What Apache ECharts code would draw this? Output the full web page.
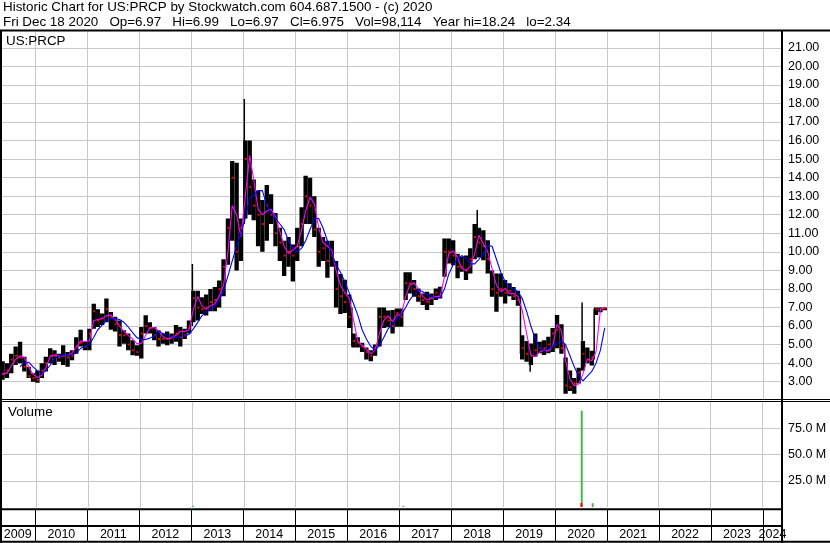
<!DOCTYPE html>
<html><head><meta charset="utf-8">
<script src="https://cdn.jsdelivr.net/npm/echarts@6/dist/echarts.min.js"></script>
<style>html,body{margin:0;padding:0;background:#fff}#c{width:830px;height:543px}</style>
</head><body><div id="c"></div>
<script>
// ---- categories (months, mid-month points) ----
const months = [
 '2009-05','2009-06','2009-07','2009-08','2009-09','2009-10','2009-11','2009-12',
 '2010-01','2010-02','2010-03','2010-04','2010-05','2010-06','2010-07','2010-08','2010-09','2010-10','2010-11','2010-12',
 '2011-01','2011-02','2011-03','2011-04','2011-05','2011-06','2011-07','2011-08','2011-09','2011-10','2011-11','2011-12',
 '2012-01','2012-02','2012-03','2012-04','2012-05','2012-06','2012-07','2012-08','2012-09','2012-10','2012-11','2012-12',
 '2013-01','2013-02','2013-03','2013-04','2013-05','2013-06','2013-07','2013-08','2013-09','2013-10','2013-11','2013-12',
 '2014-01','2014-02','2014-03','2014-04','2014-05','2014-06','2014-07','2014-08','2014-09','2014-10','2014-11','2014-12',
 '2015-01','2015-02','2015-03','2015-04','2015-05','2015-06','2015-07','2015-08','2015-09','2015-10','2015-11','2015-12',
 '2016-01','2016-02','2016-03','2016-04','2016-05','2016-06','2016-07','2016-08','2016-09','2016-10','2016-11','2016-12',
 '2017-01','2017-02','2017-03','2017-04','2017-05','2017-06','2017-07','2017-08','2017-09','2017-10','2017-11','2017-12',
 '2018-01','2018-02','2018-03','2018-04','2018-05','2018-06','2018-07','2018-08','2018-09','2018-10','2018-11','2018-12',
 '2019-01','2019-02','2019-03','2019-04','2019-05','2019-06','2019-07','2019-08','2019-09','2019-10','2019-11','2019-12',
 '2020-01','2020-02','2020-03','2020-04','2020-05','2020-06','2020-07','2020-08','2020-09','2020-10','2020-11','2020-12'
];
// ---- monthly trading ranges ----
const lows = [
 3.1, 3.2, 3.45, 3.9, 4.0, 3.55, 3.2, 3.0,
 2.95, 3.2, 3.55, 4.0, 3.9, 4.07, 3.9, 3.8, 4.16, 4.5, 4.9, 4.7,
 4.7, 5.86, 5.95, 6.05, 6.2, 5.8, 5.7, 4.9, 5.05, 4.7, 4.43, 4.4,
 4.25, 5.6, 5.6, 5.24, 4.9, 5.05, 4.97, 5.05, 5.15, 4.9, 5.3, 5.6,
 6.2, 6.3, 6.65, 6.57, 6.8, 6.8, 7.0, 7.6, 9.3, 10.6, 9.0, 9.5,
 11.8, 12.0, 11.7, 10.3, 10.0, 10.6, 11.5, 10.3, 9.5, 8.7, 9.2, 8.4,
 9.5, 10.3, 11.5, 11.5, 10.8, 9.2, 9.5, 8.6, 9.2, 7.0, 6.65, 6.7,
 5.9, 4.85, 4.85, 4.6, 4.2, 4.1, 4.4, 4.9, 5.9, 5.94, 5.6, 5.96,
 5.96, 7.4, 7.76, 7.58, 7.31, 7.13, 6.86, 7.13, 7.4, 7.49, 8.66, 9.37,
 9.28, 8.57, 8.92, 8.48, 8.83, 9.6, 9.7, 9.55, 8.83, 7.58, 6.77, 7.58,
 7.22, 7.6, 7.4, 7.1, 4.2, 4.08, 3.9, 4.35, 4.53, 4.44, 4.53, 4.6,
 4.8, 4.5, 2.35, 2.5, 2.35, 2.9, 3.6, 4.0, 3.87, 6.6, 6.75, 6.85
];
const highs = [
 4.1, 4.0, 4.5, 4.9, 5.15, 4.35, 3.8, 3.45,
 3.6, 4.0, 4.35, 4.8, 4.7, 4.5, 4.97, 4.6, 4.7, 5.4, 5.8, 5.2,
 5.86, 7.2, 6.9, 6.67, 7.48, 6.76, 6.5, 6.3, 5.77, 5.6, 5.24, 4.97,
 5.95, 6.58, 6.2, 5.95, 5.77, 5.6, 5.7, 5.6, 6.05, 5.95, 5.86, 6.3,
 7.9, 7.9, 7.55, 7.7, 8.0, 8.1, 8.46, 9.6, 11.8, 14.9, 14.8, 11.8,
 16.0, 16.0, 13.9, 13.3, 12.8, 13.6, 13.1, 12.1, 11.3, 10.6, 10.8, 10.4,
 11.3, 12.4, 14.1, 14.0, 13.0, 11.3, 10.8, 10.6, 10.6, 9.5, 8.8, 8.5,
 7.7, 5.6, 5.4, 5.1, 4.85, 4.7, 5.0, 7.0, 7.0, 6.84, 6.86, 6.95,
 6.95, 8.9, 8.9, 8.48, 8.03, 7.76, 7.85, 7.76, 8.03, 8.12, 10.72, 10.72,
 10.63, 9.9, 9.73, 9.8, 10.2, 11.5, 11.3, 11.17, 10.63, 9.0, 8.83, 8.83,
 8.48, 8.3, 8.1, 7.9, 5.5, 5.2, 5.06, 5.6, 5.15, 5.24, 5.42, 5.9,
 6.6, 6.1, 4.3, 3.6, 3.2, 3.75, 5.2, 4.85, 4.67, 7.0, 7.0, 7.0
];
const closes = [
 3.4, 3.6, 4.2, 4.4, 4.3, 3.8, 3.3, 3.2,
 3.1, 3.6, 4.0, 4.4, 4.4, 4.3, 4.4, 4.3, 4.4, 4.9, 5.1, 4.9,
 5.6, 6.8, 6.3, 6.4, 6.9, 6.5, 6.1, 5.5, 5.5, 5.0, 4.7, 4.6,
 5.6, 6.0, 5.9, 5.5, 5.3, 5.3, 5.3, 5.4, 5.6, 5.4, 5.5, 5.9,
 7.5, 7.0, 6.9, 7.0, 7.3, 7.4, 8.0, 9.2, 11.3, 14.0, 10.0, 11.3,
 15.0, 13.5, 12.5, 12.0, 11.5, 12.5, 12.0, 11.0, 10.5, 9.8, 10.0, 9.8,
 10.3, 11.5, 13.0, 12.5, 11.2, 10.0, 10.2, 9.5, 9.8, 8.0, 7.6, 7.3,
 6.5, 5.2, 5.1, 4.9, 4.6, 4.4, 4.8, 6.5, 6.5, 6.3, 6.0, 6.7,
 6.5, 8.3, 8.3, 8.0, 7.6, 7.4, 7.3, 7.5, 7.8, 7.6, 10.0, 10.0,
 9.8, 9.2, 9.2, 9.0, 9.6, 10.8, 10.5, 10.3, 9.6, 8.0, 7.8, 8.0,
 7.8, 7.9, 7.6, 7.4, 4.8, 4.5, 4.4, 4.7, 4.8, 4.8, 5.0, 5.6,
 5.8, 4.8, 2.8, 2.7, 2.9, 3.5, 4.5, 4.2, 4.3, 6.9, 6.9, 6.975
];
// ---- moving averages ----
const maShort = [
 3.45, 3.45, 3.85, 4.2, 4.4, 4.3, 3.8, 3.4,
 3.22, 3.35, 3.75, 4.35, 4.45, 4.38, 4.4, 4.43, 4.55, 4.85, 5.2, 5.15,
 5.2, 6.3, 6.35, 6.4, 6.55, 6.6, 6.35, 6.0, 5.72, 5.5, 5.3, 5.05,
 5.05, 5.5, 5.9, 5.92, 5.75, 5.42, 5.32, 5.35, 5.5, 5.72, 5.7, 5.8,
 6.9, 7.6, 7.1, 6.9, 7.1, 7.2, 7.6, 8.2, 10.0, 12.5, 12.0, 10.8,
 13.0, 15.2, 13.9, 12.3, 12.0, 12.2, 12.3, 11.9, 11.1, 10.3, 9.9, 10.1,
 10.3, 11.2, 12.2, 12.95, 12.6, 11.3, 10.5, 10.3, 10.1, 9.0, 8.2, 7.8,
 7.5, 6.3, 5.2, 4.95, 4.75, 4.5, 4.7, 5.6, 6.3, 6.55, 6.23, 6.6,
 6.6, 7.6, 8.2, 8.33, 8.0, 7.6, 7.4, 7.5, 7.6, 7.6, 8.65, 9.9,
 10.05, 9.7, 9.1, 9.0, 9.2, 9.9, 10.9, 10.45, 10.0, 9.1, 8.2, 7.85,
 8.03, 7.75, 7.75, 7.6, 6.85, 5.6, 4.45, 4.35, 4.6, 4.7, 4.65, 4.9,
 6.11, 5.75, 4.13, 3.13, 2.78, 2.87, 3.42, 4.22, 4.13, 4.6, 6.9, 6.97
];
const maLong = [
 null, null, null, null, 3.8, 4.05, 4.05, 3.8,
 3.6, 3.42, 3.6, 3.9, 4.25, 4.38, 4.43, 4.43, 4.45, 4.55, 4.8, 4.9,
 5.0, 5.4, 5.8, 6.05, 6.3, 6.4, 6.4, 6.35, 6.2, 5.95, 5.65, 5.38,
 5.25, 5.28, 5.35, 5.45, 5.7, 5.6, 5.5, 5.42, 5.38, 5.42, 5.48, 5.55,
 5.85, 6.2, 6.55, 6.75, 6.9, 7.05, 7.4, 7.9, 8.7, 9.5, 10.3, 11.0,
 11.8, 12.9, 13.05, 13.3, 13.3, 12.5, 12.1, 11.8, 11.5, 11.2, 10.6, 10.2,
 10.0, 10.2, 10.6, 11.2, 11.8, 11.8, 11.3, 10.6, 9.9, 9.3, 8.9, 8.4,
 7.8, 7.2, 6.6, 5.8, 5.3, 4.9, 4.7, 4.95, 5.4, 5.85, 6.1, 6.4,
 6.6, 7.0, 7.4, 7.7, 7.95, 7.85, 7.7, 7.6, 7.5, 7.55, 8.0, 8.8,
 9.3, 9.6, 9.8, 9.65, 9.35, 9.35, 9.6, 9.9, 10.35, 10.3, 9.6, 8.9,
 8.4, 8.1, 8.0, 7.85, 7.5, 6.8, 6.0, 5.3, 4.8, 4.7, 4.75, 4.9,
 5.1, 5.2, 5.0, 4.4, 3.8, 3.3, 3.05, 3.3, 3.55, 4.0, 4.7, 5.9
];
// ---- single-day spikes ----
const spikeDates = ['2013-01-08','2014-01-08','2016-02-03','2018-07-03','2019-05-03','2019-07-10','2020-03-09','2020-07-09','2020-10-02'];
const spikeLows  = [6.0, 11.5, 4.9, 10.0, 4.5, 3.54, 2.5, 3.6, 4.2];
const spikeHighs = [9.35, 18.24, 7.0, 12.25, 7.6, 4.4, 5.05, 7.27, 6.9];
// ---- volume ----
const volDates  = ['2013-01-10','2017-01-30','2020-07-10','2020-07-08','2020-09-25'];
const volValues = [1.0e6, 1.0e6, 91.7e6, 3.8e6, 3.6e6];
const volUp     = [true, true, true, false, true];
// ---- axes / header ----
const yearLabels = ['2009','2010','2011','2012','2013','2014','2015','2016','2017','2018','2019','2020','2021','2022','2023','2024'];
const gridYears  = ['2010','2011','2012','2013','2014','2015','2016','2017','2018','2019','2020','2021','2022','2023','2024'];
const xMin = '2009-04-27', xMax = '2024-05-14';
const headerLine1 = 'Historic Chart for US:PRCP by Stockwatch.com 604.687.1500 - (c) 2020';
const headerLine2 = 'Fri Dec 18 2020   Op=6.97   Hi=6.99   Lo=6.97   Cl=6.975   Vol=98,114   Year hi=18.24   lo=2.34';

const FONT = 'Liberation Sans';
const chart = echarts.init(document.getElementById('c'), null, {renderer: 'canvas'});

const mid = m => m + '-15';
const rangeData = months.map((m, i) => [mid(m), lows[i], highs[i], closes[i]]);
const spikeData = spikeDates.map((d, i) => [d, spikeLows[i], spikeHighs[i]]);
const shortData = months.map((m, i) => [mid(m), maShort[i]]);
const longData = months.map((m, i) => [mid(m), maLong[i]]).filter(d => d[1] != null);

function yearLineSeries(idx) {
  return {
    type: 'custom', xAxisIndex: idx, yAxisIndex: idx, z: 1, silent: true,
    data: gridYears.map(y => [y + '-01-01']),
    encode: {x: 0},
    renderItem(params, api) {
      const cs = params.coordSys;
      const x = Math.round(api.coord([api.value(0), 0])[0]) + 0.5;
      return {type: 'line', shape: {x1: x, y1: cs.y, x2: x, y2: cs.y + cs.height},
              style: {stroke: '#c8c8c8', lineWidth: 1}};
    }
  };
}

const option = {
  animation: false,
  backgroundColor: '#fff',
  grid: [
    {left: 0, top: 32, width: 782, height: 368.25},
    {left: 0, top: 402, width: 782, height: 105},
    {left: 0, top: 510, width: 782, height: 31}
  ],
  xAxis: [0, 1, 2].map(i => ({
    type: 'time', gridIndex: i, min: xMin, max: xMax, show: false,
    splitLine: {show: false}
  })),
  yAxis: [
    {type: 'value', gridIndex: 0, position: 'right', min: 2, max: 21.85, interval: 1,
     axisLine: {show: false}, axisTick: {show: false},
     axisLabel: {margin: 6, color: '#000', fontFamily: FONT, fontSize: 12.5,
                 formatter: v => (v >= 3 && v <= 21) ? v.toFixed(2) : ''},
     splitLine: {show: true, showMinLine: false, showMaxLine: false, lineStyle: {color: '#c8c8c8', width: 1}}},
    {type: 'value', gridIndex: 1, position: 'right', min: 0, max: 100e6, interval: 25e6,
     axisLine: {show: false}, axisTick: {show: false},
     axisLabel: {margin: 6, color: '#000', fontFamily: FONT, fontSize: 12.5,
                 formatter: v => (v > 0 && v < 100e6) ? (v / 1e6).toFixed(1) + ' M' : ''},
     splitLine: {show: true, showMinLine: false, showMaxLine: false, lineStyle: {color: '#c8c8c8', width: 1}}},
    {type: 'value', gridIndex: 2, min: 0, max: 1, show: false, splitLine: {show: false}}
  ],
  series: [
    yearLineSeries(0),
    yearLineSeries(1),
    {
      type: 'custom', xAxisIndex: 0, yAxisIndex: 0, z: 3, clip: true,
      data: rangeData, encode: {x: 0, y: [1, 2]},
      renderItem(params, api) {
        const x = api.value(0);
        const pH = api.coord([x, api.value(2)]);
        const pL = api.coord([x, api.value(1)]);
        const pC = api.coord([x, api.value(3)]);
        const w = api.size([30.5 * 86400000, 0])[0];
        return {type: 'group', children: [
          {type: 'rect', shape: {x: pH[0] - w / 2, y: pH[1], width: w, height: Math.max(1, pL[1] - pH[1])},
           style: {fill: '#000'}},
          {type: 'rect', shape: {x: pC[0] - 0.5, y: pC[1] - 1, width: 2, height: 2},
           style: {fill: '#ff0000'}}
        ]};
      }
    },
    {
      type: 'custom', xAxisIndex: 0, yAxisIndex: 0, z: 3, clip: true,
      data: spikeData, encode: {x: 0, y: [1, 2]},
      renderItem(params, api) {
        const x = api.value(0);
        const pH = api.coord([x, api.value(2)]);
        const pL = api.coord([x, api.value(1)]);
        return {type: 'rect', shape: {x: pH[0] - 0.75, y: pH[1], width: 1.5, height: pL[1] - pH[1]},
                style: {fill: '#000'}};
      }
    },
    {type: 'line', xAxisIndex: 0, yAxisIndex: 0, z: 4, data: shortData, showSymbol: false, symbol: 'none',
     lineStyle: {color: '#ff00ff', width: 1.1}, silent: true},
    {type: 'line', xAxisIndex: 0, yAxisIndex: 0, z: 5, data: longData, showSymbol: false, symbol: 'none',
     lineStyle: {color: '#0000ff', width: 1.1}, silent: true},
    {type: 'bar', xAxisIndex: 1, yAxisIndex: 1, z: 3, barWidth: 2, silent: true,
     data: volDates.map((d, i) => ({value: [d, volValues[i]], itemStyle: {color: volUp[i] ? '#44bb44' : '#ff0000'}}))},
    {
      type: 'custom', xAxisIndex: 2, yAxisIndex: 2, z: 6, silent: true,
      data: yearLabels.map(y => [y + '-01-01']), encode: {x: 0},
      renderItem(params, api) {
        const cs = params.coordSys;
        const y0 = Number(yearLabels[params.dataIndex]);
        const xa = api.coord([api.value(0), 0])[0];
        const xb = api.coord([(y0 + 1) + '-01-01', 0])[0];
        const l = Math.max(xa, cs.x), r = Math.min(xb, cs.x + cs.width);
        const children = [];
        if (xa > cs.x + 1) {
          const xl = Math.round(xa) + 0.5;
          children.push({type: 'line', shape: {x1: xl, y1: cs.y, x2: xl, y2: cs.y + cs.height},
                         style: {stroke: '#000', lineWidth: 1}});
        }
        children.push({type: 'text', x: (l + r) / 2, y: 534.5,
          style: {text: yearLabels[params.dataIndex], fill: '#000', font: '12.5px "' + FONT + '"',
                  align: 'center', verticalAlign: 'middle'}});
        return {type: 'group', children};
      }
    }
  ],
  graphic: [
    {type: 'text', left: 3, top: 1, z: 100, style: {text: headerLine1, fill: '#000', font: '13.4px "' + FONT + '"'}},
    {type: 'text', left: 3, top: 16, z: 100, style: {text: headerLine2, fill: '#000', font: '13.4px "' + FONT + '"'}},
    {type: 'text', left: 6, top: 35, z: 100, style: {text: 'US:PRCP', fill: '#000', font: '13.4px "' + FONT + '"'}},
    {type: 'text', left: 8, top: 406, z: 100, style: {text: 'Volume', fill: '#000', font: '13.4px "' + FONT + '"'}},
    {type: 'line', z: 100, shape: {x1: 0, y1: 30.5, x2: 830, y2: 30.5}, style: {stroke: '#000', lineWidth: 2}},
    {type: 'line', z: 100, shape: {x1: 0, y1: 399.5, x2: 830, y2: 399.5}, style: {stroke: '#000', lineWidth: 1}},
    {type: 'line', z: 100, shape: {x1: 0, y1: 401.5, x2: 830, y2: 401.5}, style: {stroke: '#000', lineWidth: 1}},
    {type: 'line', z: 100, shape: {x1: 0, y1: 509.3, x2: 782, y2: 509.3}, style: {stroke: '#000', lineWidth: 2}},
    {type: 'line', z: 100, shape: {x1: 0, y1: 526, x2: 782, y2: 526}, style: {stroke: '#000', lineWidth: 2}},
    {type: 'line', z: 100, shape: {x1: 0, y1: 541.8, x2: 830, y2: 541.8}, style: {stroke: '#000', lineWidth: 2}},
    {type: 'line', z: 100, shape: {x1: 782, y1: 30, x2: 782, y2: 543}, style: {stroke: '#000', lineWidth: 2}},
    {type: 'line', z: 100, shape: {x1: 1, y1: 30, x2: 1, y2: 543}, style: {stroke: '#000', lineWidth: 2}}
  ]
};
chart.setOption(option);
</script>
</body></html>
